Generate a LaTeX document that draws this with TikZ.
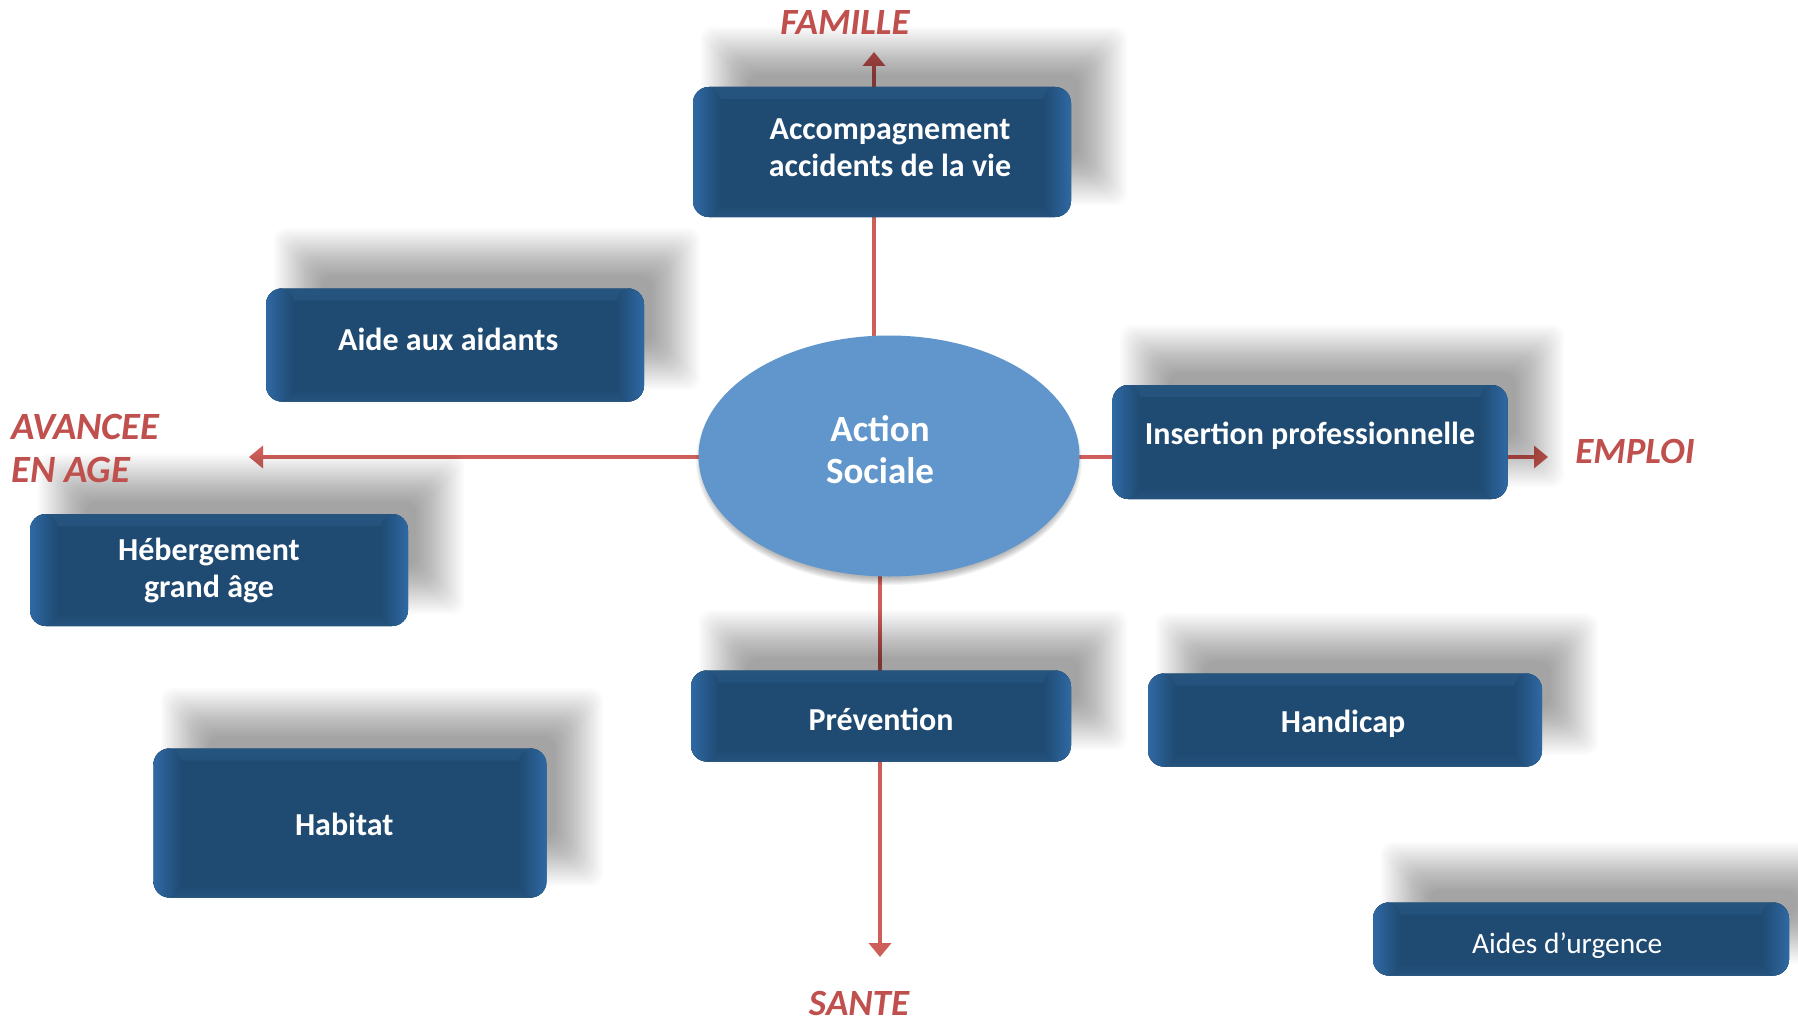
\documentclass[tikz,border=0pt]{standalone}
\usepackage{fontspec}
\setmainfont{Carlito}
\usetikzlibrary{arrows.meta,backgrounds,shapes.geometric}
\pgfdeclarelayer{shade}
\pgfsetlayers{background,shade,main}

\definecolor{boxblue}{HTML}{1F4A72}
\definecolor{bevelblue}{HTML}{2F69A3}
\definecolor{rimblue}{HTML}{25547F}
\definecolor{ovalblue}{HTML}{6096CB}
\definecolor{axisred}{HTML}{CD5E59}
\definecolor{labelred}{HTML}{C0504D}

% move the ink of a one-line text, keeping its box
\newcommand{\nudge}[3]{\raisebox{#2}[\height][\depth]{\hspace*{#1}#3\hspace*{-#1}}}

\begin{document}
\begin{tikzpicture}[x=0.5pt,y=-0.5pt,
        theme/.style={rounded corners=8pt,fill=boxblue,text=white,align=center,inner sep=0pt,
            font=\bfseries\fontsize{16}{18.5}\selectfont,
            path picture={
                \fill[top color=rimblue,bottom color=boxblue] (path picture bounding box.north west) rectangle ([yshift=-6pt]path picture bounding box.north east);
                \fill[top color=boxblue,bottom color=rimblue] ([yshift=6pt]path picture bounding box.south west) rectangle (path picture bounding box.south east);
                \fill[left color=bevelblue,right color=boxblue] (path picture bounding box.north west) rectangle ([xshift=14pt]path picture bounding box.south west);
                \fill[left color=boxblue,right color=bevelblue] ([xshift=-14pt]path picture bounding box.north east) rectangle (path picture bounding box.south east);
            }},
        axis/.style={line width=2pt,color=axisred,-{Triangle[length=7pt,width=11pt]}},
        pole/.style={text=labelred,align=left,inner sep=0pt,font=\bfseries\itshape\fontsize{18.5}{21.5}\selectfont}]
        \useasboundingbox (0,0) rectangle (1798,1022);

        % centre
        \node[ellipse,fill=ovalblue,minimum width=190.5pt,minimum height=120.5pt] (soc) at (889,456) {};
        \node[text=white,align=center,font=\bfseries\fontsize{18.5}{21}\selectfont] (soctext) at (880,450) {Action\\Sociale};

        % themes
        \node[theme,minimum width=189pt,minimum height=65pt,text depth=4.6pt] (accomp) at (882,152) {\hspace*{8pt}Accompagnement\\\hspace*{8pt}accidents de la vie};
        \node[theme,minimum width=189pt,minimum height=56.5pt] (aidants) at (455,345) {\nudge{-3.4pt}{2.9pt}{Aide aux aidants}};
        \node[theme,minimum width=197.5pt,minimum height=57pt] (insertion) at (1310,442) {\nudge{0pt}{2.9pt}{Insertion professionnelle}};
        \node[theme,minimum width=189pt,minimum height=56pt] (hebergement) at (219,570) {Hébergement\hspace*{10pt}\\grand âge\hspace*{10pt}};
        \node[theme,minimum width=190pt,minimum height=45.5pt] (prevention) at (881,716) {\nudge{0pt}{-1.7pt}{Prévention}};
        \node[theme,minimum width=197pt,minimum height=46.5pt] (handicap) at (1345,720) {\nudge{-1pt}{-1.7pt}{Handicap}};
        \node[theme,minimum width=196.5pt,minimum height=74.5pt] (habitat) at (350,823) {\nudge{-2.9pt}{-0.6pt}{Habitat}};
        \node[theme,minimum width=208pt,minimum height=36.5pt,font=\fontsize{14.7}{18.5}\selectfont] (urgence) at (1581,939) {\nudge{-6.9pt}{-3.4pt}{Aides d’urgence}};

        % poles
        \node[pole,anchor=base] (famille) at (845,35) {FAMILLE};
        \node[pole,anchor=north west,font=\bfseries\itshape\fontsize{19.3}{21.5}\selectfont] (avancee) at (11,414) {AVANCEE\\EN AGE};
        \node[pole] (emploi) at (1635,451) {EMPLOI};
        \node[pole,anchor=base] (sante) at (859,1015) {SANTE};

        \coordinate (famtip) at (874,52);
        \coordinate (agetip) at (249,457);
        \coordinate (emptip) at (1548,457);
        \coordinate (santip) at (880,957);

        % soft shadows
        \begin{pgfonlayer}{shade}
            \foreach \n in {accomp,aidants,insertion,hebergement,prevention,handicap,habitat,urgence}
                \foreach \d in {-12,-11,...,12}
                    \fill[black,opacity=0.016,rounded corners=6pt] ([shift={(16pt-\d pt,18pt-\d pt)}]\n.south west) rectangle ([shift={(16pt+\d pt,18pt+\d pt)}]\n.north east);
            \foreach \d in {0,...,7}
                \fill[black,opacity=0.04] ([yshift=-2.5pt]soc.center) ellipse [x radius={(93+0.5*\d)*1pt},y radius={(58.5+0.5*\d)*1pt}];
        \end{pgfonlayer}

        \begin{scope}[on background layer]
            \fill[white] (0,0) rectangle (1798,1022);
            \draw[axis] (soc.center -| famtip) -- (famtip);
            \draw[axis] (soc.center |- agetip) -- (agetip);
            \draw[axis] (soc.center |- emptip) -- (emptip);
            \draw[axis] (soc.center -| santip) -- (santip);
        \end{scope}
    \end{tikzpicture}
\end{document}
